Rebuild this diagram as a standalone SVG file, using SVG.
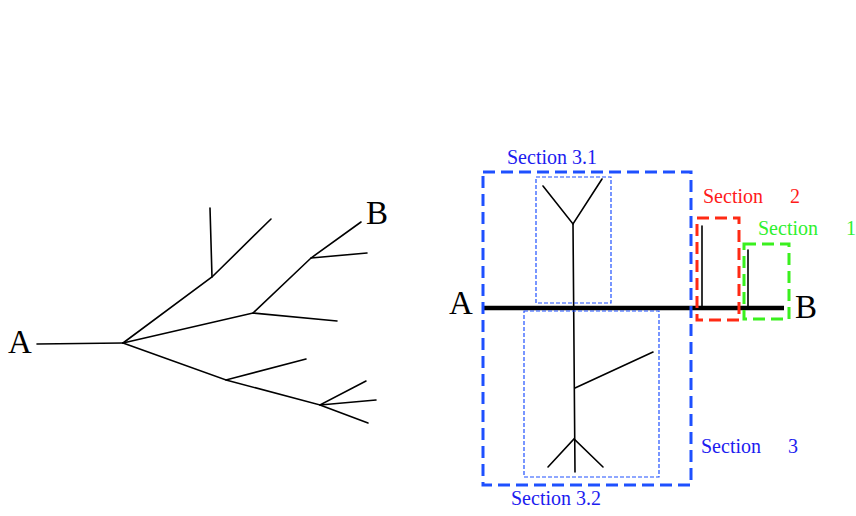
<svg xmlns="http://www.w3.org/2000/svg" width="856" height="516" viewBox="0 0 856 516">
  <style>
    .edge { fill: none; stroke: #000; stroke-width: 1.6; stroke-linecap: round; }
    .axis { fill: none; stroke: #000; stroke-width: 4.5; }
    .label { font-family: "Liberation Serif", "Times New Roman", serif; font-size: 33px; fill: #000; }
    .sec { font-family: "Liberation Serif", "Times New Roman", serif; font-size: 20px; }
    .box-main { fill: none; stroke: #1e50ff; stroke-width: 3; stroke-dasharray: 12 6; }
    .box-sub { fill: none; stroke: #1e50ff; stroke-width: 1.2; stroke-dasharray: 4 2; }
    .box-red { fill: none; stroke: #ff2a14; stroke-width: 3; stroke-dasharray: 12 6; }
    .box-green { fill: none; stroke: #3af01e; stroke-width: 3; stroke-dasharray: 12 6; }
    .blue { fill: #1c1cf0; }
    .red { fill: #ff1a1a; }
    .green { fill: #2ef02e; }
  </style>
  <rect width="856" height="516" fill="#fff"/>

  <!-- Branching tree from A to B -->
  <g id="tree">
    <g id="tree-edges">
      <polyline class="edge" points="37,344 123,343"/>
      <polyline class="edge" points="123,343 212,277 271,219"/>
      <polyline class="edge" points="212,277 210,208"/>
      <polyline class="edge" points="123,343 253,313 337,321"/>
      <polyline class="edge" points="253,313 311,258 361,222"/>
      <polyline class="edge" points="311,258 367,253"/>
      <polyline class="edge" points="123,343 226,380 306,359"/>
      <polyline class="edge" points="226,380 320,405 366,381"/>
      <polyline class="edge" points="320,405 376,400"/>
      <polyline class="edge" points="320,405 368,423"/>
    </g>
    <text id="tree-a" class="label" x="8" y="353">A</text>
    <text id="tree-b" class="label" x="366" y="224">B</text>
  </g>

  <!-- Sectioned path diagram -->
  <g id="path">
    <g id="path-edges">
      <line class="axis" x1="483" y1="308" x2="784" y2="308"/>
      <!-- section 3 stem -->
      <polyline class="edge" points="543,186 573,224 602,179"/>
      <polyline class="edge" points="573,224 575,472"/>
      <polyline class="edge" points="575,388 653,352"/>
      <polyline class="edge" points="548,467 574,439 603,467"/>
      <!-- sections 2 and 1 stubs -->
      <line class="edge" x1="702" y1="226" x2="702" y2="308"/>
      <line class="edge" x1="748" y1="250" x2="748" y2="308"/>
    </g>
    <text id="path-a" class="label" x="449" y="314">A</text>
    <text id="path-b" class="label" x="795" y="318">B</text>
  </g>

  <g id="section-3">
    <rect class="box-main" x="483" y="172" width="208" height="313"/>
    <text class="sec blue" x="701" y="453">Section <tspan x="788">3</tspan></text>
  </g>
  <g id="section-3-1">
    <rect class="box-sub" x="536" y="177" width="75" height="126"/>
    <text class="sec blue" x="507" y="164">Section 3.1</text>
  </g>
  <g id="section-3-2">
    <rect class="box-sub" x="524" y="311" width="135" height="166"/>
    <text class="sec blue" x="511" y="505">Section 3.2</text>
  </g>
  <g id="section-2">
    <rect class="box-red" x="697" y="218" width="42" height="102"/>
    <text class="sec red" x="703" y="203">Section <tspan x="790">2</tspan></text>
  </g>
  <g id="section-1">
    <rect class="box-green" x="744" y="244" width="45" height="75"/>
    <text class="sec green" x="758" y="235">Section <tspan x="846">1</tspan></text>
  </g>
</svg>
